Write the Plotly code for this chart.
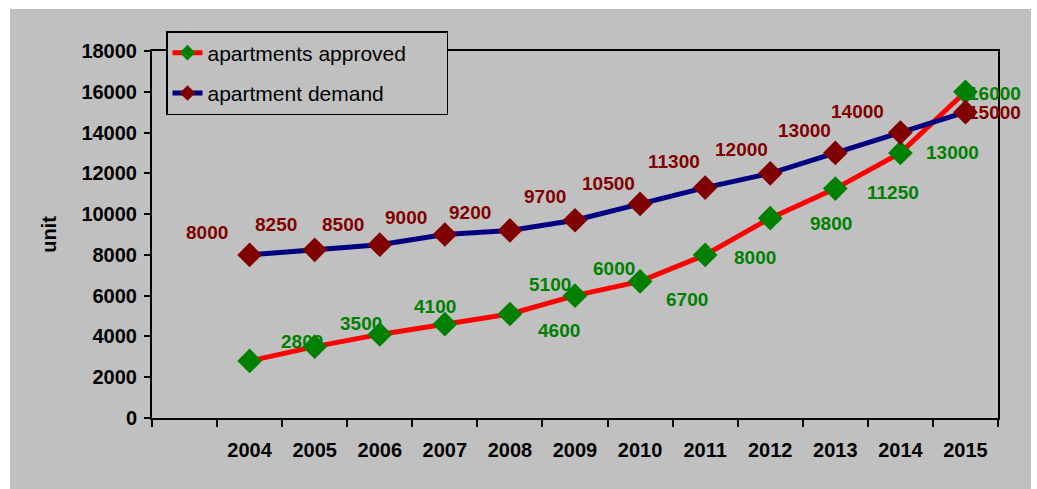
import plotly.graph_objects as go

# ---- data ----
years = ["2004", "2005", "2006", "2007", "2008", "2009", "2010",
         "2011", "2012", "2013", "2014", "2015"]
approved = [2800, 3500, 4100, 4600, 5100, 6000, 6700, 8000, 9800, 11250, 13000, 16000]
demand = [8000, 8250, 8500, 9000, 9200, 9700, 10500, 11300, 12000, 13000, 14000, 15000]
y_ticks = [0, 2000, 4000, 6000, 8000, 10000, 12000, 14000, 16000, 18000]
y_tick_text = [str(v) for v in y_ticks]

# label offsets in pixels (dx right, dy down) relative to each point
approved_dx = [52, 46, 55, 114, 40, 39, 47, 50, 61, 58, 52, 29]
approved_dy = [-19, -23, -28, 6, -30, -27, 18, 3, 5, 4, 0, 2]
demand_dx = [-43, -39, -37, -39, -40, -30, -32, -31, -29, -31, -43, 29]
demand_dy = [-22, -25, -20, -17, -18, -24, -20, -26, -24, -22, -21, 0]

FONT = "Arial, Liberation Sans, sans-serif"
GREY = "#C0C0C0"
W, H = 1037, 489
L, R, T, B = 152, 998, 51, 418

xpos = list(range(1, len(years) + 1))

fig = go.Figure()
fig.add_trace(go.Scatter(
    x=xpos, y=approved, mode="lines+markers",
    name="apartments approved\u00a0\u00a0\u00a0\u00a0\u00a0\u00a0",
    line=dict(color="#FF0000", width=5),
    marker=dict(symbol="diamond", size=19, color="#008000", line=dict(width=0)),
    legendgroup="a", cliponaxis=False))
fig.add_trace(go.Scatter(
    x=xpos, y=demand, mode="lines+markers", name="apartment demand",
    line=dict(color="#000080", width=5),
    marker=dict(symbol="diamond", size=19, color="#800000", line=dict(width=0)),
    legendgroup="d", cliponaxis=False))

ann = []
for xi, v, dx, dy in zip(xpos, approved, approved_dx, approved_dy):
    ann.append(dict(x=xi, y=v, text=str(v), showarrow=False, xshift=dx, yshift=-dy,
                    font=dict(family=FONT, size=19, color="#008000", weight="bold")))
for xi, v, dx, dy in zip(xpos, demand, demand_dx, demand_dy):
    ann.append(dict(x=xi, y=v, text=str(v), showarrow=False, xshift=dx, yshift=-dy,
                    font=dict(family=FONT, size=19, color="#800000", weight="bold")))

def px_x(p):
    return (p - L) / (R - L)

def px_y(p):
    return (B - p) / (B - T)

fig.add_shape(type="rect", xref="paper", yref="paper",
              x0=px_x(10), x1=px_x(1031), y0=px_y(489), y1=px_y(9),
              fillcolor=GREY, line=dict(width=0), layer="below")

fig.update_layout(
    width=W, height=H,
    margin=dict(l=L, r=W - R, t=T, b=H - B, pad=0),
    paper_bgcolor="white", plot_bgcolor=GREY,
    font=dict(family=FONT, color="black"),
    showlegend=True,
    legend=dict(x=px_x(166), y=px_y(31), xanchor="left", yanchor="top",
                bgcolor=GREY, bordercolor="black", borderwidth=1.5,
                font=dict(family=FONT, size=21, color="black"),
                itemsizing="constant", tracegroupgap=10),
    annotations=ann,
    xaxis=dict(range=[-0.5, len(years) + 0.5], tickmode="array",
               tickvals=xpos, ticktext=years, ticks="",
               tickfont=dict(family=FONT, size=20, color="black", weight="bold"),
               showline=True, linecolor="black", linewidth=2, mirror=True,
               showgrid=False, zeroline=False, ticklabelstandoff=13,
               minor=dict(tickmode="linear", tick0=-0.5, dtick=1, ticks="outside",
                          ticklen=7, tickwidth=1.5, tickcolor="black", showgrid=False)),
    yaxis=dict(range=[0, 18000], tickmode="array", tickvals=y_ticks, ticktext=y_tick_text,
               ticks="outside", ticklen=6, tickwidth=1.5, tickcolor="black",
               tickfont=dict(family=FONT, size=20, color="black", weight="bold"),
               showline=True, linecolor="black", linewidth=2, mirror=True,
               showgrid=False, zeroline=False, ticklabelstandoff=3,
               title=dict(text="unit", standoff=19,
                          font=dict(family=FONT, size=20, color="black", weight="bold"))),
)

fig.write_html("out.html", config={"displayModeBar": False},
               post_script="document.body.style.margin='0';")
